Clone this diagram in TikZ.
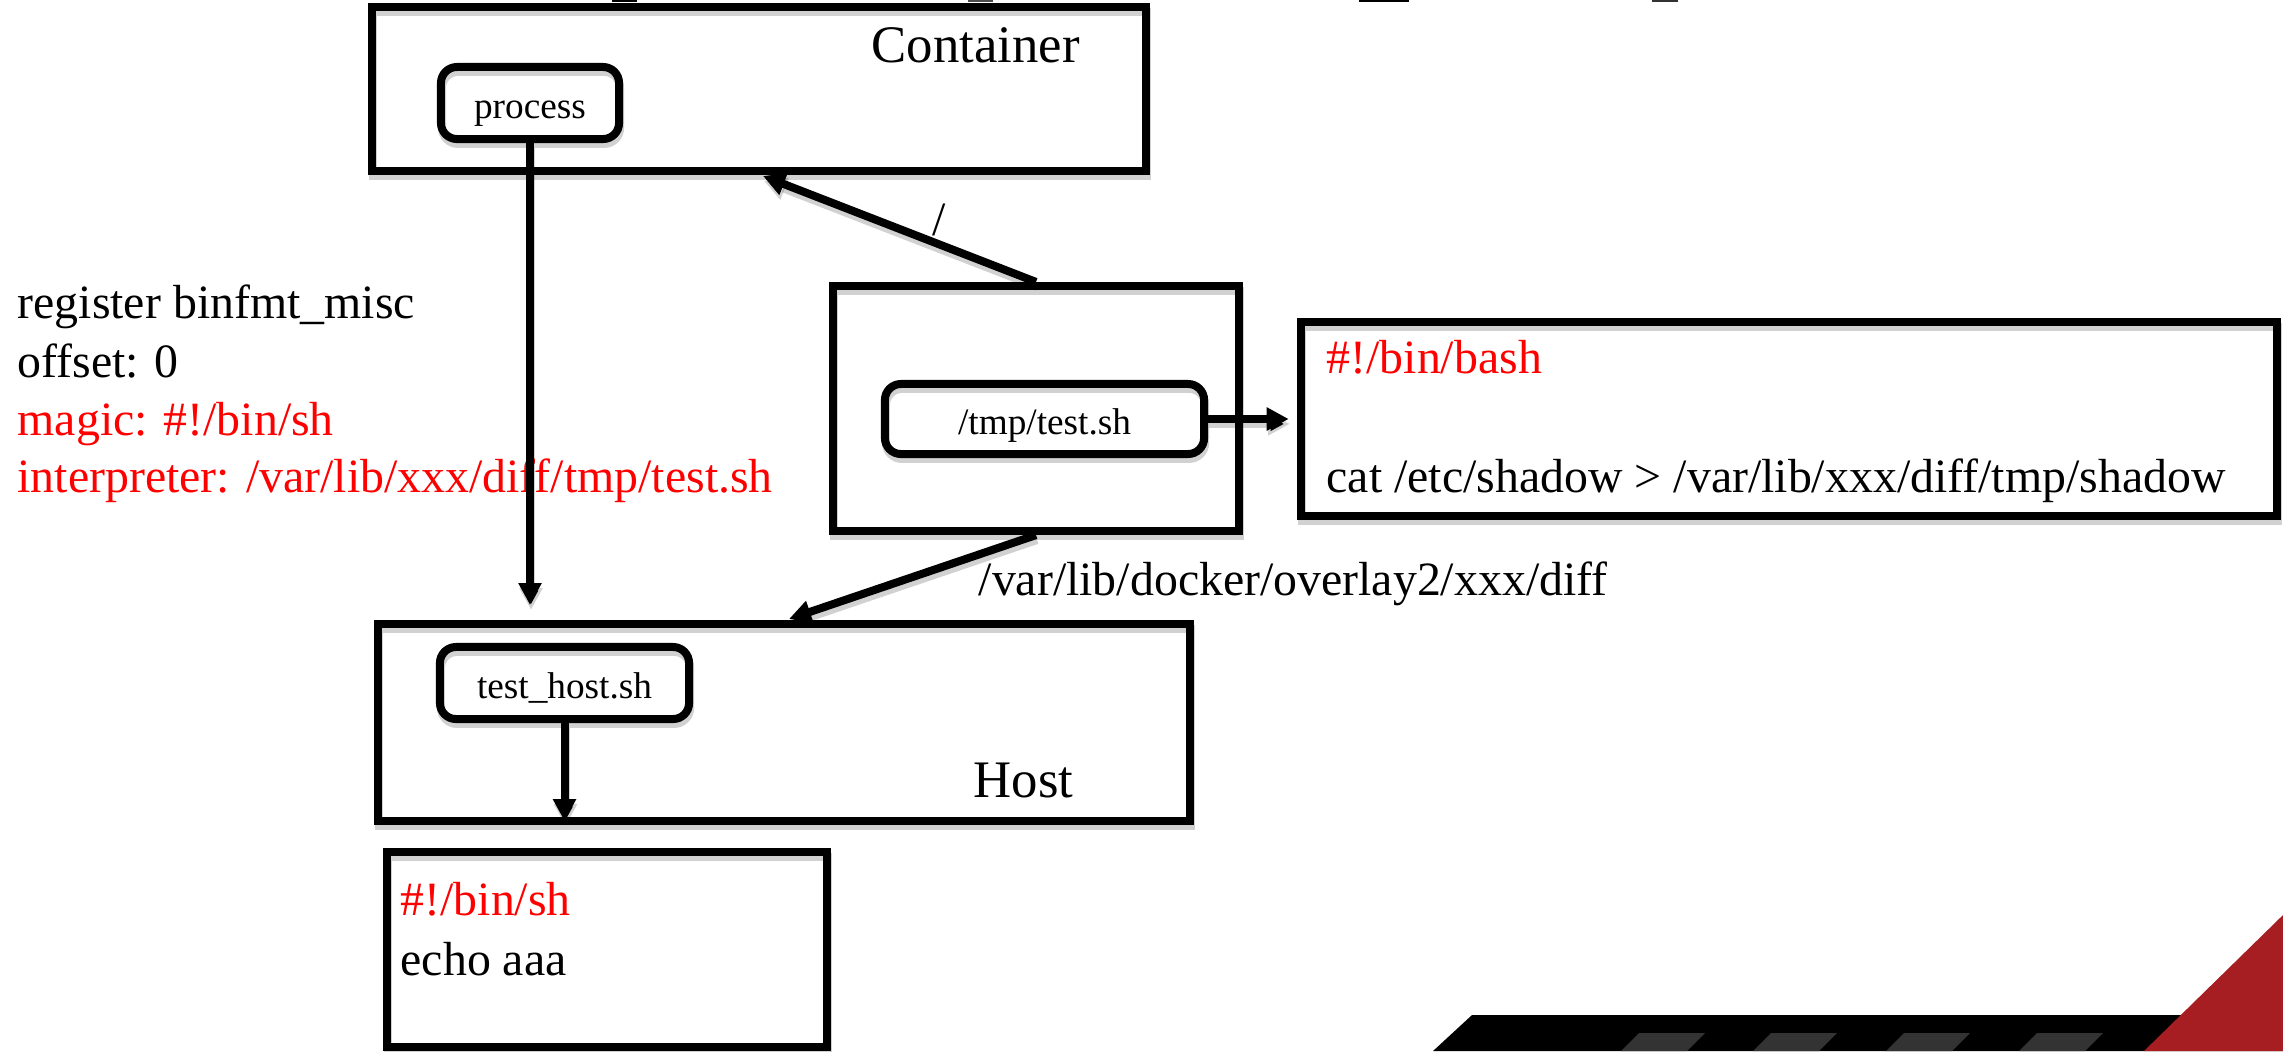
\documentclass[tikz,border=0pt]{standalone}
\usepackage{fontspec}
\setmainfont{Liberation Serif}[Ligatures=CommonOff]
\usetikzlibrary{arrows.meta}
\definecolor{decored}{HTML}{A61E22}
\definecolor{decogrey}{HTML}{333333}
\tikzset{
  big/.style={font=\fontsize{13.6pt}{16.5pt}\selectfont},
  lbl/.style={font=\fontsize{15pt}{18pt}\selectfont, anchor=base west, inner sep=0pt},
  small/.style={font=\fontsize{10.6pt}{12.7pt}\selectfont},
  shad/.style={preaction={draw=black, draw opacity=0.18, line width=0.08cm, transform canvas={xshift=0.3pt,yshift=-1.4pt}}},
  box/.style={draw, line width=0.08cm, inner sep=0pt, shad},
  rbox/.style={box, rounded corners=0.16cm, small, text height=0.35cm, text depth=0.05cm},
  conn/.style={line width=0.08cm, -{Triangle[length=0.22cm,width=0.22cm]}, shad},
  txt/.style={anchor=base west, inner sep=0pt, big},
}
\begin{document}
\begin{tikzpicture}[x=0.01cm,y=-0.01cm]
\useasboundingbox (0,0) rectangle (2283,1051);

% cut-off title fragments at the top edge
\fill (612,0) rectangle (637,2);
\fill[black!70] (968,0) rectangle (993,1.5);
\fill (1359,0) rectangle (1409,2);
\fill[black!80] (1652,0) rectangle (1678,2);

% Container
\node[box, minimum width=7.74cm, minimum height=1.64cm] (cont) at (759,89) {};
\node[lbl] (contlbl) at (871,62) {Container};
\node[rbox, minimum width=1.78cm, minimum height=0.72cm] (proc) at (530,103) {process};

% middle box
\node[box, minimum width=4.06cm, minimum height=2.45cm] (mid) at (1036,408.5) {};
\node[rbox, minimum width=3.19cm, minimum height=0.70cm] (tsh) at (1044.5,419) {/tmp/test.sh};

% right script box
\node[box, minimum width=9.76cm, minimum height=1.94cm] (bash) at (1789,419) {};
\node[txt, text=red] (bash1) at (1326,373) {\#!/bin/bash};
\node[txt] (bash2) at (1326,492) {cat /etc/shadow > /var/lib/xxx/diff/tmp/shadow};

% Host
\node[box, minimum width=8.12cm, minimum height=1.97cm] (host) at (784,722.5) {};
\node[lbl] (hostlbl) at (973,797) {Host};
\node[rbox, minimum width=2.49cm, minimum height=0.72cm] (th) at (564.5,683) {test\_host.sh};

% bottom script box
\node[box, minimum width=4.40cm, minimum height=1.95cm] (sh) at (607,949.5) {};
\node[txt, text=red] (sh1) at (400,915) {\#!/bin/sh};
\node[txt] (sh2) at (400,975) {echo aaa};

% left text
\node[txt] (l1) at (17,318) {register binfmt\_misc};
\node[txt] (l2) at (17,377) {offset: 0};
\node[txt, text=red] (l3) at (17,435) {magic: \#!/bin/sh};
\node[txt, text=red] (l4) at (17,492) {interpreter: /var/lib/xxx/diff/tmp/test.sh};

% labels
\node[big, inner sep=0pt] (slash) at (939,220) {/};
\node[txt] (dock) at (978,595) {/var/lib/docker/overlay2/xxx/diff};

% connectors
\coordinate (pend) at (530,605);
\coordinate (cbot) at (763,176);
\coordinate (htop) at (789,619);
\draw[conn] (proc.south) -- (pend);
\draw[conn] (mid.north) -- (cbot);
\draw[conn] (mid.south) -- (htop);
\draw[conn, shorten >=0.08cm] (tsh.east) -- (bash.west);
\draw[conn, shorten >=0.04cm] (th.south) -- (th.south |- host.south);

% decoration bottom right
\fill[black] (1472,1015) -- (2283,1015) -- (2283,1051) -- (1433,1051) -- cycle;
\foreach \x in {1639,1771,1904,2037}
  \fill[decogrey] (\x,1033) -- ++(66,0) -- ++(-18,18) -- ++(-66,0) -- cycle;
\fill[decored] (2283,915) -- (2283,1051) -- (2144,1051) -- cycle;
\end{tikzpicture}
\end{document}
